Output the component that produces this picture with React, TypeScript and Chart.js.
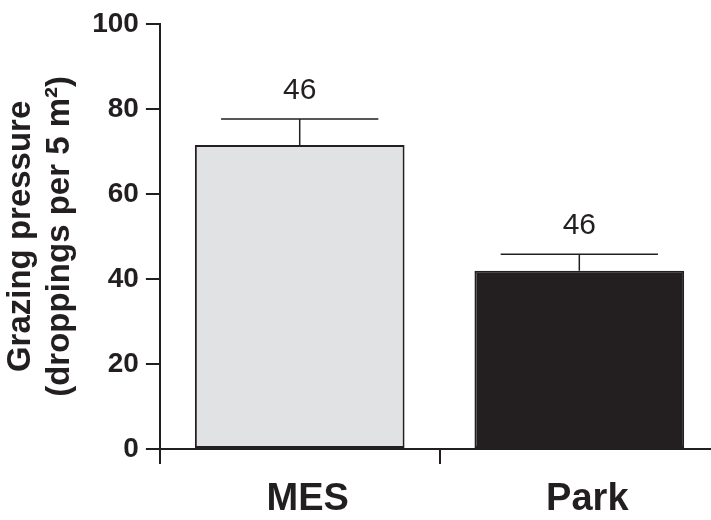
import React, { useEffect, useRef } from "react";
import { Chart, registerables } from "chart.js";

Chart.register(...registerables);

// ---- data ----
const categories: string[] = ["MES", "Park"];
const means: number[] = [71.5, 41.9];
const upperErrors: number[] = [6.1, 3.9];
const sampleSizes: number[] = [46, 46];
const yTickValues: number[] = [0, 20, 40, 60, 80, 100];
const yTitle: string[] = ["Grazing pressure", "(droppings per 5 m\u00B2)"];
// x axis runs past the last category to the right edge of the figure
const X_MAX = 1.971;

// ---- styles ----
const DARK = "#231f20";
const LIGHT = "#e1e2e4";
const FONT = "'Liberation Sans', Arial, Helvetica, sans-serif";

const errorBarPlugin = {
  id: "errorBars",
  afterDatasetsDraw(chart: any) {
    const meta = chart.getDatasetMeta(0);
    const yScale = chart.scales.y;
    const ctx = chart.ctx;
    ctx.save();
    meta.data.forEach((bar: any, i: number) => {
      const { x, width } = bar.getProps(["x", "width"], true);
      const yMean = yScale.getPixelForValue(means[i]);
      const yTop = yScale.getPixelForValue(means[i] + upperErrors[i]);
      const half = width * 0.375;
      ctx.strokeStyle = DARK;
      ctx.lineWidth = 1.5;
      ctx.beginPath();
      ctx.moveTo(x, yMean);
      ctx.lineTo(x, yTop);
      ctx.moveTo(x - half, yTop);
      ctx.lineTo(x + half, yTop);
      ctx.stroke();
      ctx.fillStyle = DARK;
      ctx.font = `30px ${FONT}`;
      ctx.textAlign = "center";
      ctx.textBaseline = "alphabetic";
      ctx.fillText(String(sampleSizes[i]), x, yTop - 20);
    });
    ctx.restore();
  },
};

export default function App() {
  const canvasRef = useRef<HTMLCanvasElement | null>(null);

  useEffect(() => {
    if (!canvasRef.current) return;
    const chart = new Chart(canvasRef.current, {
      type: "bar",
      data: {
        datasets: [
          {
            data: categories.map((_, i) => ({ x: i + 0.5, y: means[i] })),
            backgroundColor: [LIGHT, DARK],
            borderColor: DARK,
            borderWidth: 2,
            borderSkipped: false,
            barPercentage: 0.75,
            categoryPercentage: 1,
          },
        ],
      },
      options: {
        animation: false,
        responsive: true,
        maintainAspectRatio: false,
        layout: { padding: { top: 20, left: 0, right: 0, bottom: 1 } },
        plugins: {
          legend: { display: false },
          tooltip: { enabled: false },
        },
        scales: {
          x: {
            type: "linear",
            position: "bottom",
            offset: false,
            min: 0,
            max: X_MAX,
            afterBuildTicks: (s: any) => {
              s.ticks = categories.map((_, i) => ({ value: i }));
            },
            ticks: { display: false },
            grid: {
              offset: false,
              drawOnChartArea: false,
              drawTicks: true,
              tickLength: 15,
              color: DARK,
              lineWidth: 2,
            },
            border: { display: true, color: DARK, width: 2 },
          },
          x2: {
            type: "linear",
            position: "bottom",
            weight: 1,
            offset: false,
            min: 0,
            max: X_MAX,
            afterBuildTicks: (s: any) => {
              s.ticks = categories.map((_, i) => ({ value: i + 0.5 }));
            },
            ticks: {
              callback: (v: any) => categories[Math.floor(Number(v))],
              font: { family: FONT, size: 38, weight: "bold", lineHeight: 1 },
              color: DARK,
              padding: 0,
              labelOffset: 8,
              maxRotation: 0,
              autoSkip: false,
            },
            grid: { display: false, offset: false, drawTicks: true, tickLength: 17 },
            border: { display: false },
          },
          y: {
            min: yTickValues[0],
            max: yTickValues[yTickValues.length - 1],
            afterBuildTicks: (s: any) => {
              s.ticks = yTickValues.map((v) => ({ value: v }));
            },
            ticks: {
              font: { family: FONT, size: 28, weight: "bold" },
              color: DARK,
              padding: 7,
            },
            grid: {
              drawOnChartArea: false,
              tickLength: 14,
              color: DARK,
              lineWidth: 2,
            },
            border: { color: DARK, width: 2 },
            title: {
              display: true,
              text: yTitle,
              font: { family: FONT, size: 33, weight: "bold", lineHeight: 1.2 },
              color: DARK,
              padding: { top: 1, bottom: 5 },
            },
          },
        },
      } as any,
      plugins: [errorBarPlugin],
    });
    return () => chart.destroy();
  }, []);

  return (
    <div
      style={{
        position: "absolute",
        left: 0,
        top: 0,
        width: 711,
        height: 520,
        background: "#ffffff",
      }}
    >
      <canvas ref={canvasRef} />
    </div>
  );
}
